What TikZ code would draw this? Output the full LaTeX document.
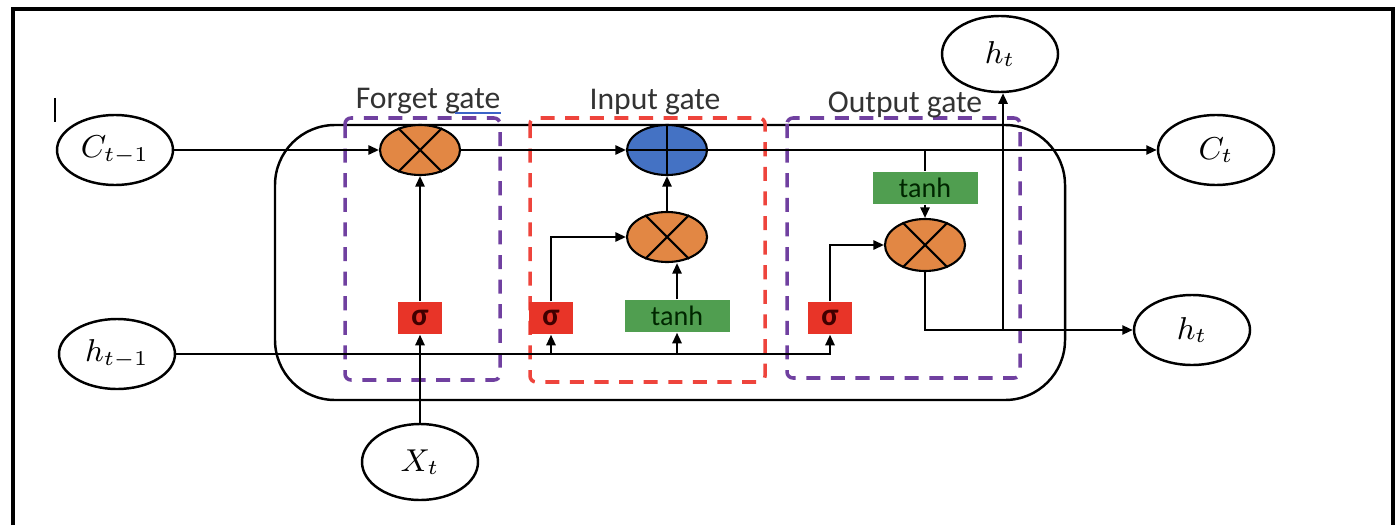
\documentclass[tikz,border=0pt]{standalone}
\usepackage{fontspec}
\newfontfamily\carlito{Carlito}
\usetikzlibrary{shapes.geometric,arrows.meta}
\definecolor{mulor}{RGB}{226,135,68}
\definecolor{addbl}{RGB}{68,114,196}
\definecolor{sigred}{RGB}{232,52,40}
\definecolor{tgreen}{RGB}{80,158,80}
\definecolor{gpurple}{RGB}{112,64,160}
\definecolor{gred}{RGB}{238,68,60}
\definecolor{ulblue}{RGB}{60,100,200}
\tikzset{
  io/.style={ellipse, draw, line width=0.7pt, minimum width=11.6mm, minimum height=7mm, inner sep=0pt, font=\fontsize{9}{10}\selectfont},
  mulnode/.style={ellipse, draw, line width=0.6pt, fill=mulor, minimum width=8mm, minimum height=5mm, inner sep=0pt},
  addnode/.style={ellipse, draw, line width=0.6pt, fill=addbl, minimum width=8mm, minimum height=5mm, inner sep=0pt},
  sigbox/.style={rectangle, fill=sigred, minimum width=4.4mm, minimum height=3.2mm, inner sep=0pt, font=\carlito\bfseries\fontsize{9}{10}\selectfont\color{black!75!red}},
  tanhbox/.style={rectangle, fill=tgreen, minimum width=10.5mm, minimum height=3.2mm, inner sep=0pt, font=\carlito\fontsize{8}{9}\selectfont\color{black!85!green}},
  gatelbl/.style={font=\carlito\fontsize{9}{10}\selectfont, text=black!80, inner sep=0pt},
  conn/.style={line width=0.6pt},
  arr/.style={line width=0.6pt, -{Triangle[length=3pt,width=2.6pt]}},
  gbox/.style={dashed, line width=1pt, dash pattern=on 4pt off 3pt, rounded corners=0.6mm},
}
\begin{document}
\begin{tikzpicture}[x=0.1mm, y=-0.1mm]
\useasboundingbox (0,0) rectangle (1400,525);
% frame
\draw[line width=1.4pt] (13,525) -- (13,9) -- (1393,9) -- (1393,525);
\draw[line width=0.5pt] (55,98) -- (55,122);
% cell
\draw[line width=0.7pt, rounded corners=6mm] (275,125) rectangle (1065,400);
% gate boxes
\draw[gbox, gpurple] (345,118) rectangle (500,380);
\draw[gbox, gred] (530,118) rectangle (765,382);
\draw[gbox, gpurple] (787,118) rectangle (1020,378);
\node[gatelbl] (lf) at (428,101) {Forget gate};
\coordinate (ulr) at ([yshift=-0.45mm]lf.base east);
\coordinate (ull) at ([xshift=-4.6mm,yshift=-0.45mm]lf.base east);
\draw[ulblue, line width=0.6pt] (ull) -- (ulr);
\node[gatelbl] (li) at (655,102) {Input gate};
\node[gatelbl] (lo) at (905,105) {Output gate};
% io nodes
\node[io] (ct1) at (115,150) {$C_{t-1}$};
\node[io] (ht1) at (117,354) {$h_{t-1}$};
\node[io, minimum height=7.6mm] (xt) at (420,462) {$X_t$};
\node[io, minimum height=7.6mm] (htt) at (1000,54) {$h_t$};
\node[io] (ct) at (1216,150) {$C_t$};
\node[io] (htr) at (1192,330) {$h_t$};
% operators
\node[mulnode] (fm) at (420,150) {};
\draw[line width=0.6pt] (fm.45) -- (fm.225) (fm.135) -- (fm.315);
\node[addnode] (pl) at (667,150) {};
\draw[line width=0.6pt] (pl.north) -- (pl.south) (pl.west) -- (pl.east);
\node[mulnode] (im) at (667,237) {};
\draw[line width=0.6pt] (im.45) -- (im.225) (im.135) -- (im.315);
\node[mulnode, minimum height=5.2mm] (om) at (925,245) {};
\draw[line width=0.6pt] (om.45) -- (om.225) (om.135) -- (om.315);
% gate boxes
\node[sigbox] (sf) at (420,318) {σ};
\node[sigbox] (si) at (551,318) {σ};
\node[tanhbox] (ti) at (677,316) {tanh};
\node[sigbox] (so) at (830,318) {σ};
\node[tanhbox] (to) at (925,188) {tanh};
% connectors
\draw[arr] (ct1) -- (fm);
\draw[arr] (fm) -- (pl);
\draw[arr] (pl) -- (ct);
\draw[arr] (xt) -- (sf);
\draw[arr] (sf) -- (fm);
\draw[arr] (ht1.east) -| (so.south);
\draw[arr] (si.south |- ht1.east) -- (si.south);
\draw[arr] (ti.south |- ht1.east) -- (ti.south);
\draw[arr] (si.north) |- (im.west);
\draw[arr] (ti.north) -- (ti.north |- im.south);
\draw[arr] (im) -- (pl);
\coordinate (br) at (925,150);
\draw[conn] (br) -- (to.north);
\draw[arr] (to) -- (om);
\draw[arr] (so.north) |- (om.west);
\draw[arr] (om.south) |- (htr.west);
\coordinate (jn) at (1003,330);
\draw[arr] (jn) -- (jn |- htt.south);
\end{tikzpicture}
\end{document}
